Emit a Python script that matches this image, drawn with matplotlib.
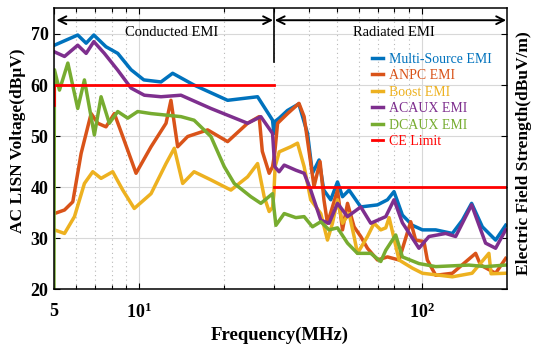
import matplotlib
matplotlib.use("Agg")
import matplotlib.pyplot as plt
import numpy as np
from matplotlib.ticker import FixedLocator, NullFormatter

plt.rcParams["font.family"] = ["Liberation Serif", "DejaVu Serif"]
plt.rcParams["mathtext.fontset"] = "custom"
plt.rcParams["mathtext.rm"] = "Liberation Serif:bold"
plt.rcParams["mathtext.bf"] = "Liberation Serif:bold"

# Multi-Source EMI
multi_f = [5.02, 6.07, 6.50, 6.92, 7.64, 8.41, 9.37, 10.4, 11.96, 13.15, 15.64, 20.58,
           26.27, 29.68, 30.0, 30.5, 31.33, 33.5, 36.76, 39.46, 41.07, 43.35, 45.04, 47.68,
           50.37, 52.47, 55.36, 60.89, 69.76, 75.67, 79.82, 85.46, 92.72, 100.6, 112.1,
           128.4, 139.3, 150.2, 163.9, 182.6, 198.2]
multi_v = [67.8, 69.8, 68.2, 69.8, 67.5, 66.2, 63.0, 61.0, 60.6, 62.3, 60.0, 57.0,
           57.7, 53.1, 50.5, 53.0, 53.5, 55.0, 56.3, 50.5, 42.7, 45.3, 39.4, 37.5,
           41.0, 38.1, 39.4, 36.1, 36.5, 37.5, 39.1, 34.5, 32.5, 31.6, 31.6,
           30.9, 33.5, 36.8, 32.2, 29.6, 32.5]

# ANPC EMI
anpc_f = [5.02, 5.45, 5.83, 6.24, 6.77, 7.15, 7.64, 8.18, 8.76, 9.76, 11.03, 12.46, 12.97,
          13.7, 14.86, 17.49, 20.58, 24.22, 26.61, 27.3, 28.87, 29.68, 30.2, 30.92, 33.54,
          36.8, 38.38, 40.5, 41.6, 43.7, 45.1, 46.42, 48.35, 50.37, 52.47, 54.65, 57.66,
          60.89, 64.29, 69.76, 75.67, 83.13, 91.45, 95.2, 101.9, 104.7, 112.1, 128.4,
          155.2, 161.6, 182.6, 198.2]
anpc_v = [34.8, 35.5, 37.1, 46.6, 54.4, 52.5, 51.8, 54.4, 49.9, 42.7, 47.9, 52.5, 57.0,
          47.9, 49.9, 51.2, 48.9, 52.5, 53.8, 47.0, 42.7, 44.0, 46.6, 52.5, 54.4,
          56.4, 53.8, 44.7, 40.1, 45.0, 37.5, 32.9, 36.1, 39.4, 31.6, 36.8, 32.2,
          30.3, 28.0, 25.7, 26.3, 25.7, 33.2, 29.6, 29.3, 25.7, 22.7, 23.1,
          27.0, 24.7, 23.1, 26.0]

# Boost EMI
boost_f = [5.02, 5.45, 5.91, 6.41, 6.86, 7.34, 8.07, 8.76, 9.62, 11.03, 12.46, 13.33, 14.27,
           15.66, 17.96, 21.14, 24.22, 26.27, 27.72, 28.87, 29.68, 30.0, 30.3, 31.33, 34.44,
           36.37, 38.38, 40.5, 43.96, 46.42, 48.35, 50.37, 52.47, 55.36, 57.66, 59.27,
           64.29, 67.85, 71.66, 74.63, 76.7, 79.0, 83.13, 92.72, 100.6, 128.4, 150.8,
           172.9, 176.0, 198.2]
boost_v = [31.6, 30.9, 34.2, 40.7, 43.0, 41.7, 43.0, 39.4, 35.8, 38.7, 44.6, 47.6, 40.7,
           43.0, 41.4, 39.4, 42.0, 44.6, 38.1, 35.2, 36.0, 38.7, 44.0, 46.9, 47.9,
           48.6, 44.0, 37.5, 34.8, 29.6, 32.9, 37.5, 32.9, 34.8, 30.3, 27.0,
           30.3, 32.9, 31.6, 32.0, 34.0, 31.0, 25.7, 24.1, 23.1, 22.4, 23.1,
           27.0, 23.0, 23.1]

# ACAUX EMI
acaux_f = [5.02, 5.45, 6.07, 6.50, 6.92, 7.54, 8.41, 9.37, 10.44, 11.96, 14.07, 17.96, 24.22,
           26.98, 29.68, 30.2, 31.3, 32.63, 35.87, 38.38, 40.5, 43.96, 47.03, 50.37, 54.65,
           60.89, 66.05, 74.63, 79.82, 85.46, 97.8, 106.1, 121.6, 131.9, 150.2, 168.3,
           182.6, 198.2]
acaux_v = [66.5, 65.6, 67.8, 66.2, 68.5, 66.2, 62.9, 59.4, 58.0, 57.7, 58.0, 55.4, 52.5,
           53.8, 50.5, 44.0, 43.0, 44.3, 43.3, 42.7, 39.4, 33.5, 32.9, 36.8, 34.2,
           36.1, 32.9, 34.2, 37.5, 33.0, 28.0, 30.3, 30.9, 30.3, 36.5, 29.0,
           28.0, 31.6]

# DCAUX EMI
dcaux_f = [5.0, 5.02, 5.23, 5.60, 6.07, 6.41, 6.95, 7.34, 7.85, 8.41, 9.12, 9.89, 11.03,
           12.46, 14.07, 15.66, 17.96, 20.02, 21.72, 24.88, 26.98, 29.68, 30.0, 30.5, 32.63,
           35.87, 38.38, 41.07, 43.96, 47.03, 50.37, 54.65, 59.27, 66.05, 71.66, 74.63,
           80.93, 85.46, 97.8, 112.1, 146.9, 168.3, 198.2]
dcaux_v = [20.0, 63.0, 59.0, 64.3, 55.4, 61.0, 50.2, 57.7, 52.5, 54.8, 53.5, 54.8, 54.4,
           54.1, 53.8, 53.1, 49.9, 44.0, 40.7, 38.1, 36.8, 38.7, 36.0, 32.5, 34.8,
           34.0, 34.2, 32.2, 33.2, 31.6, 32.0, 29.0, 27.0, 27.0, 25.4, 27.6,
           30.6, 26.3, 25.0, 24.4, 24.7, 24.4, 24.7]

# CE limit (conducted 56/60 dB, radiated 40 dB)
ce_f = [5, 5, 30, np.nan, 30, 200]
ce_v = [56, 60, 60, np.nan, 40, 40]

series = [
    ("Multi-Source EMI", multi_f, multi_v, "#0072BD"),
    ("ANPC EMI", anpc_f, anpc_v, "#D95319"),
    ("Boost EMI", boost_f, boost_v, "#EDB120"),
    ("ACAUX EMI", acaux_f, acaux_v, "#7E2F8E"),
    ("DCAUX EMI", dcaux_f, dcaux_v, "#77AC30"),
]

fig = plt.figure(figsize=(5.34, 3.47), dpi=100)
ax = fig.add_axes([0.101, 0.167, 0.848, 0.81])

for name, f, v, c in series:
    ax.plot(f, v, color=c, lw=2.5, label=name)
ax.plot(ce_f, ce_v, color="#FF0000", lw=2.0, label="CE Limit")

ax.set_xscale("log")
ax.set_xlim(5, 200)
ax.set_ylim(20, 75.1)

ax.xaxis.set_major_locator(FixedLocator([5, 10, 100]))
ax.set_xticklabels(["5", r"$\mathregular{10^1}$", r"$\mathregular{10^2}$"])
ax.xaxis.set_minor_locator(FixedLocator([6, 7, 8, 9, 20, 30, 40, 50, 60, 70, 80, 90]))
ax.xaxis.set_minor_formatter(NullFormatter())
ax.set_yticks([20, 30, 40, 50, 60, 70])

ax.grid(True, which="major", color="#d8d8d8", lw=0.8, ls="-")
ax.grid(True, which="minor", axis="x", color="#b8b8b8", lw=0.8, ls=(0, (1, 3)))
ax.set_axisbelow(True)

ax.tick_params(which="both", direction="in", top=True, right=True, width=0.8)
ax.tick_params(which="major", length=4, labelsize=13, pad=4)
ax.tick_params(which="minor", length=3)
ax.tick_params(axis="x", pad=10)
for lab in ax.get_yticklabels() + ax.get_xticklabels():
    lab.set_fontweight("bold")
for s in ax.spines.values():
    s.set_linewidth(1.1)

fig.text(0.524, 1 - 335 / 347, "Frequency(MHz)", fontsize=13.5, fontweight="bold",
         ha="center", va="center")
fig.text(18 / 534, 1 - 141 / 347, "AC LISN Voltage(dBμV)", rotation=90, fontsize=12.5,
         fontweight="bold", ha="center", va="center")
fig.text(524 / 534, 1 - 153 / 347, "Electric Field Strength(dBuV/m)", rotation=90,
         fontsize=12.5, fontweight="bold", ha="center", va="center")

# region annotations
arrow = dict(arrowstyle="<->", lw=1.4, color="black", shrinkA=0, shrinkB=0, mutation_scale=14)
ax.annotate("", xy=(5.1, 72.7), xytext=(29.8, 72.7), arrowprops=arrow)
ax.annotate("", xy=(30.2, 72.7), xytext=(199, 72.7), arrowprops=arrow)
ax.plot([30, 30], [64.5, 75.1], color="black", lw=1.2)
ax.text(13, 70.3, "Conducted EMI", fontsize=10.5, ha="center", va="center")
ax.text(80, 70.3, "Radiated EMI", fontsize=10.5, ha="center", va="center")

ax.legend(loc="upper left", bbox_to_anchor=(0.69, 0.86), frameon=False, fontsize=10,
          handlelength=0.8, handletextpad=0.4, labelspacing=0.25, labelcolor="linecolor",
          borderaxespad=0)

fig.savefig("out.png", dpi=100)
